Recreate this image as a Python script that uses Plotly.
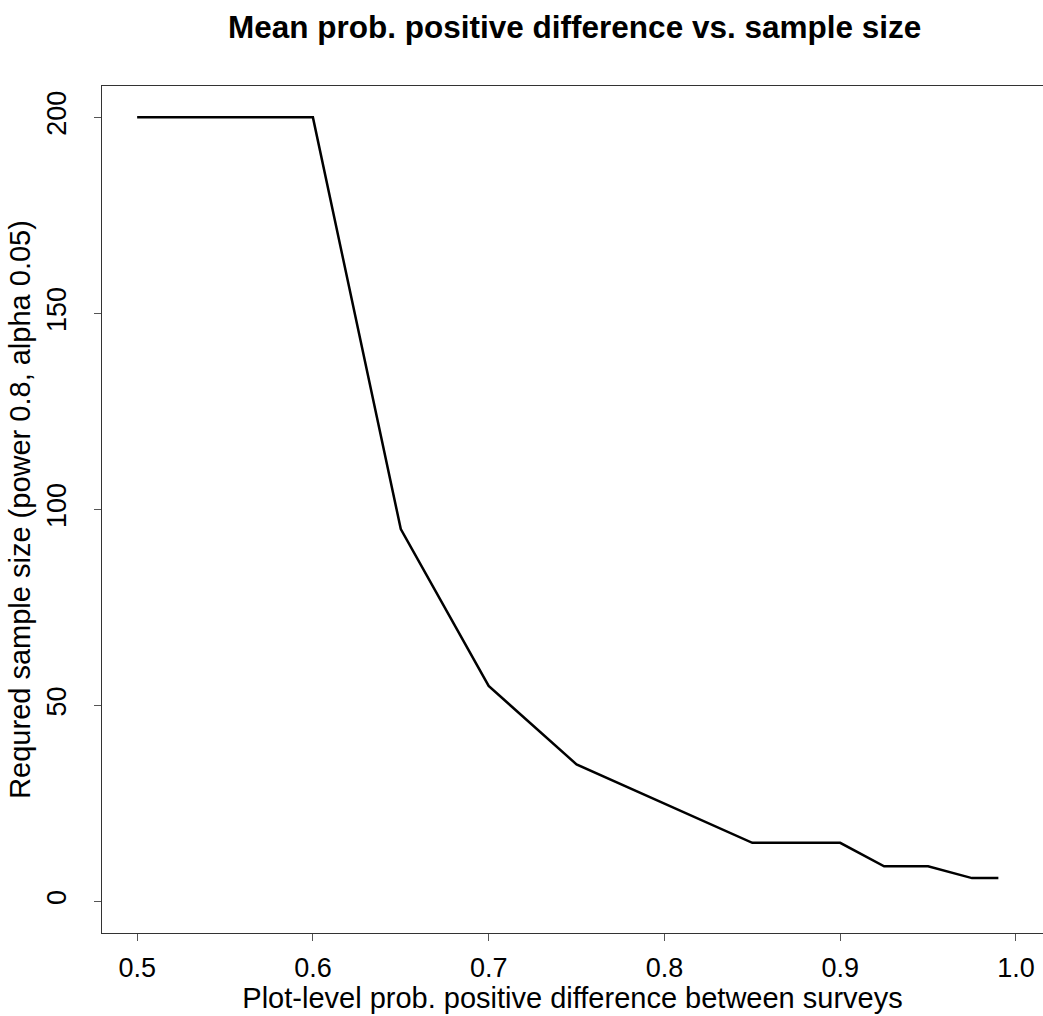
import plotly.graph_objects as go

prob_positive = [0.5, 0.6, 0.65, 0.7, 0.75, 0.8, 0.85, 0.9, 0.925, 0.95, 0.975, 0.99]
sample_size = [200, 200, 95, 55, 35, 25, 15, 15, 9, 9, 6, 6]
x_ticks = [0.5, 0.6, 0.7, 0.8, 0.9, 1.0]
x_tick_text = ["0.5", "0.6", "0.7", "0.8", "0.9", "1.0"]
y_ticks = [0, 50, 100, 150, 200]

font = "Liberation Sans, Arial, sans-serif"

fig = go.Figure()
fig.add_trace(go.Scatter(x=prob_positive, y=sample_size, mode="lines",
                         line=dict(color="black", width=2.5), showlegend=False))

fig.update_layout(
    width=1043, height=1016,
    margin=dict(l=102, r=0, t=86, b=83),
    paper_bgcolor="white", plot_bgcolor="white",
    font=dict(family=font, color="black"),
    title=dict(text="<b>Mean prob. positive difference vs. sample size</b>",
               x=0.551, xanchor="center", y=0.973, yanchor="middle",
               font=dict(size=31.5, family=font, color="black")),
)
fig.update_xaxes(range=[0.48, 1.0154], tickvals=x_ticks, ticktext=x_tick_text,
                 showgrid=False, zeroline=False,
                 showline=True, mirror=True, linecolor="#333333", linewidth=1.2,
                 ticks="outside", ticklen=7, tickcolor="#555555", tickwidth=1,
                 tickfont=dict(size=27, family=font, color="black"),
                 ticklabelstandoff=3,
                 title=dict(text="Plot-level prob. positive difference between surveys",
                            font=dict(size=29, family=font, color="black"), standoff=2))
fig.update_yaxes(range=[-8, 208], tickvals=y_ticks,
                 showgrid=False, zeroline=False,
                 showline=True, linecolor="#333333", linewidth=1.2,
                 ticks="outside", ticklen=7, tickcolor="#555555", tickwidth=1,
                 tickangle=-90,
                 tickfont=dict(size=27, family=font, color="black"),
                 ticklabelstandoff=17,
                 title=dict(text="Requred sample size (power 0.8, alpha 0.05)",
                            font=dict(size=29, family=font, color="black"), standoff=2))

fig.write_html("out.html")
